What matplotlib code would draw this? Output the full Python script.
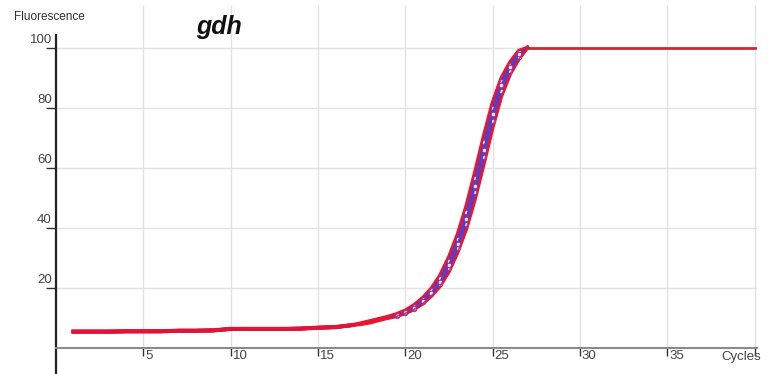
import matplotlib.pyplot as plt
from matplotlib.transforms import ScaledTranslation

plt.rcParams['font.family'] = ['Liberation Sans', 'DejaVu Sans']

# cycles 1..17 (baseline), 17.5..27 (rise, read every half cycle), 28..40 (plateau)
base_cycles = [1, 2, 3, 4, 5, 6, 7, 8, 9, 10, 11, 12, 13, 14, 15, 16, 17]
rise_cycles = [17.5, 18, 18.5, 19, 19.5, 20, 20.5, 21, 21.5, 22,
               22.5, 23, 23.5, 24, 24.5, 25, 25.5, 26, 26.5, 27]
plateau_cycles = [28, 29, 30, 31, 32, 33, 34, 35, 36, 37, 38, 39, 40]

baseline = [5.3, 5.3, 5.3, 5.4, 5.4, 5.4, 5.6, 5.6, 5.7, 6.2, 6.2, 6.2, 6.2, 6.3, 6.6, 6.8, 7.5]
plateau = [100] * 13

# normalised fluorescence of the replicate wells during the exponential phase
well_a = [8.2, 8.9, 9.6, 10.3, 11.2, 12.4, 14.2, 16.6, 19.8, 24.2,
          30.3, 37.9, 47.4, 58.8, 70.8, 81.8, 89.9, 95.2, 99.0, 100]
well_b = [8.1, 8.75, 9.5, 10.15, 11.0, 12.1, 13.75, 16.05, 19.05, 23.1,
          28.9, 36.2, 45.2, 56.4, 68.4, 79.9, 88.7, 94.35, 98.4, 100]
well_c = [8.0, 8.6, 9.4, 10.0, 10.8, 11.8, 13.3, 15.5, 18.3, 22.0,
          27.5, 34.5, 43.0, 54.0, 66.0, 78.0, 87.5, 93.5, 97.8, 100]
well_d = [7.9, 8.45, 9.25, 9.9, 10.6, 11.6, 13.0, 15.05, 17.75, 21.25,
          26.4, 33.1, 41.3, 51.8, 63.6, 75.6, 85.6, 92.3, 96.95, 100]
well_e = [7.8, 8.3, 9.1, 9.8, 10.4, 11.4, 12.7, 14.6, 17.2, 20.5,
          25.3, 31.7, 39.6, 49.6, 61.2, 73.2, 83.7, 91.1, 96.1, 100]

blue_wells = [well_b, well_d, well_c]
red_wells = [well_a, well_e, well_c]

fig = plt.figure(figsize=(7.71, 3.74), dpi=100)
ax = fig.add_axes([56 / 771, 0, (757 - 56) / 771, (374 - 5) / 374])
ax.set_xlim(0, 40.14)
ax.set_ylim(-8.83, 114.2)

# light grid
ax.vlines(range(5, 41, 5), 0, 114.2, color='#e2e2e2', lw=1, zorder=0)
ax.hlines(range(20, 101, 20), 0, 40.14, color='#e2e2e2', lw=1, zorder=0)

# red traces underneath (baseline + exponential phase)
for w in red_wells:
    ax.plot(base_cycles + rise_cycles, baseline + w, color='#e8162e', lw=2.6, zorder=2)
# blue wells only show through in the exponential phase
for w in blue_wells:
    ax.plot(rise_cycles[3:], w[3:], color='#5a3cc8', lw=1.4,
            marker='o', ms=3.2, mfc='#efeaff', mec='#6a48d0', mew=0.7,
            markevery=slice(1, -1), zorder=3)
for w in red_wells[:2]:
    ax.plot(rise_cycles, w, color='#e8162e', lw=1.2, alpha=0.85, zorder=4)
# baseline and plateau drawn last so they stay red
ax.plot(base_cycles, baseline, color='#e0143a', lw=3, zorder=5)
ax.plot([27] + plateau_cycles, [100] + plateau, color='#cc2838', lw=2, zorder=5)

for s in ['top', 'right']:
    ax.spines[s].set_visible(False)
ax.spines['left'].set_bounds(-8.83, 104.2)
ax.spines['left'].set_linewidth(1.6)
ax.spines['left'].set_color('#222222')
ax.spines['bottom'].set_position(('data', 0))
ax.spines['bottom'].set_color('#8a8a8a')
ax.spines['bottom'].set_linewidth(1.5)

ax.set_xticks(range(5, 41, 5))
ax.set_xticklabels(['5', '10', '15', '20', '25', '30', '35', ''])
ax.set_yticks(range(20, 101, 20))
ax.tick_params(axis='x', direction='out', length=6, width=1, color='#333333',
               pad=-4, labelsize=9.5, labelcolor='#444444')
ax.tick_params(axis='y', direction='out', length=7, width=1, color='#333333',
               pad=-4, labelsize=9.5, labelcolor='#444444')
shift = ScaledTranslation(2 / 100, 0, fig.dpi_scale_trans)
lift = ScaledTranslation(0, 2 / 100, fig.dpi_scale_trans)
for lbl in ax.get_xticklabels():
    lbl.set_ha('left')
    lbl.set_transform(lbl.get_transform() + shift)
for lbl in ax.get_yticklabels():
    lbl.set_va('bottom')
    lbl.set_transform(lbl.get_transform() + lift)

ax.text(38.1, -1.3, 'Cycles', ha='left', va='top', fontsize=9.5,
        color='#444444', clip_on=False)
fig.text(14 / 771, 1 - 17 / 374, 'Fluorescence', ha='left', va='center',
         fontsize=8.5, color='#333333')
fig.text(219 / 771, 1 - 27 / 374, 'gdh', ha='center', va='center',
         fontsize=18, fontweight='bold', fontstyle='italic', color='#111111')

fig.savefig('out.png', dpi=100)
